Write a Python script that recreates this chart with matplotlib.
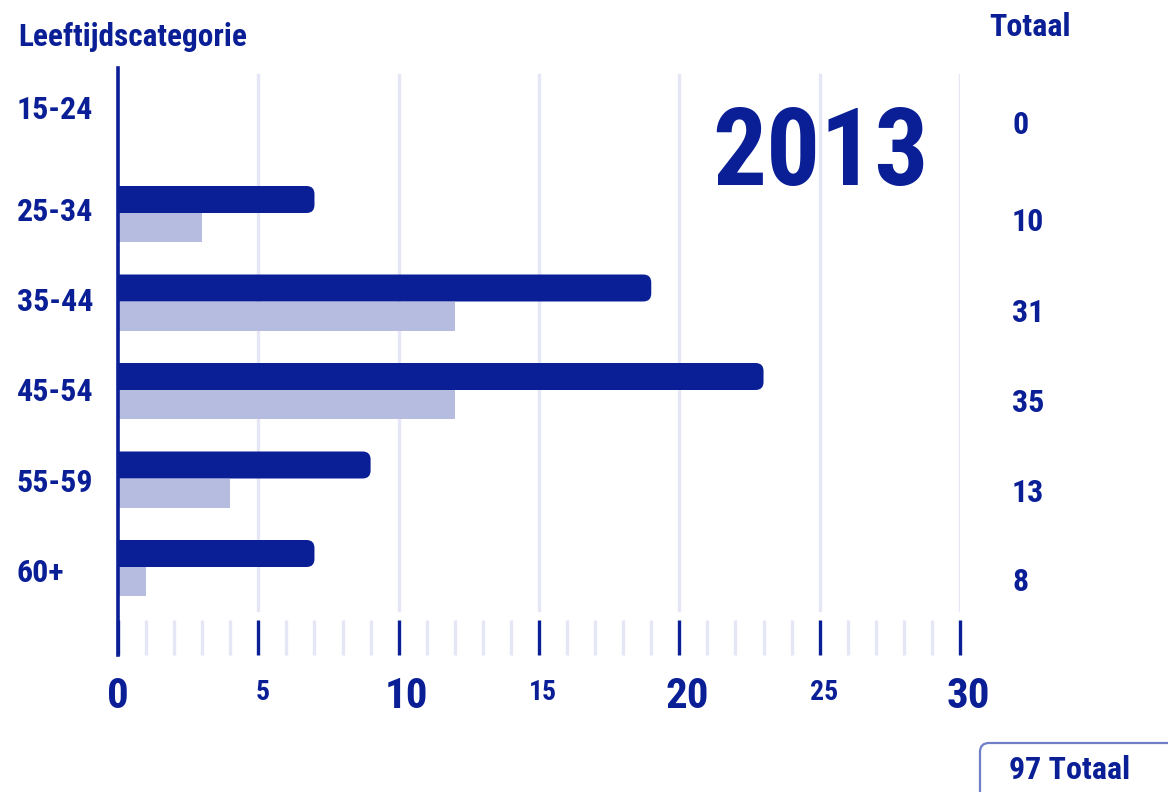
import matplotlib
matplotlib.use("Agg")
import matplotlib.pyplot as plt
from matplotlib.patches import FancyBboxPatch
from matplotlib.transforms import blended_transform_factory, offset_copy

# ---------------- data ----------------
categories = ["15-24", "25-34", "35-44", "45-54", "55-59", "60+"]
series_dark = [0, 7, 19, 23, 9, 7]
series_light = [0, 3, 12, 12, 4, 1]
totals = [0, 10, 31, 35, 13, 8]
year_label = "2013"
x_ticks = [0, 5, 10, 15, 20, 25, 30]
x_tick_labels = ["0", "5", "10", "15", "20", "25", "30"]

# ---------------- style ----------------
DARK = "#0a1f96"
LIGHT = "#b6bbe0"
GRID = "#e5e7f6"
FONT = ["Roboto Condensed", "DejaVu Sans"]
plt.rcParams["font.family"] = FONT

W, H = 1168, 792
fig = plt.figure(figsize=(W / 100, H / 100), dpi=100)


def fx(px):
    return px / W


def fy(py):
    return 1 - py / H


# axes: x 0..30 maps to pixel 118..960, y pixels 68..655
ax_left, ax_right, ax_top, ax_bot = 118, 960, 68, 655
ax = fig.add_axes([fx(ax_left), fy(ax_bot), fx(ax_right - ax_left), (ax_bot - ax_top) / H])

row0 = 124.5      # pixel of row boundary for first row
row_step = 88.5   # pixels between rows
ylo = (ax_top - row0) / row_step
yhi = (ax_bot - row0) / row_step
ax.set_xlim(0, 30)
ax.set_ylim(yhi, ylo)

dark_h = 27 / row_step
light_h = 29 / row_step
ypos = list(range(len(categories)))

# grid lines
g_ymin = (ax_bot - 610) / (ax_bot - ax_top)
g_ymax = (ax_bot - 75) / (ax_bot - ax_top)
for t in x_ticks[1:]:
    ax.axvline(t, g_ymin, g_ymax, color=GRID, lw=2.4, zorder=0)

# light bars
ax.barh(ypos, series_light, height=light_h, align="edge", color=LIGHT, zorder=2)

# dark bars (rounded right end)
dark_bars = ax.barh(ypos, series_dark, height=-dark_h, align="edge", color=DARK, zorder=3)
px_per_x = (ax_right - ax_left) / 30
aspect = px_per_x / row_step
for rect, v in zip(dark_bars.patches, series_dark):
    rect.set_visible(False)
    if v <= 0:
        continue
    y0, h = rect.get_y(), rect.get_height()
    w = rect.get_width()
    yb = min(y0, y0 + h)
    rr = 8 / px_per_x
    p = FancyBboxPatch((-1, yb), w + 1, abs(h),
                       boxstyle=f"round,pad=0,rounding_size={rr}",
                       mutation_aspect=aspect, fc=DARK, ec="none", zorder=3,
                       clip_on=True)
    ax.add_patch(p)

# spines
for s in ["top", "right", "bottom"]:
    ax.spines[s].set_visible(False)
ax.spines["left"].set_color(DARK)
ax.spines["left"].set_linewidth(2.6)
ax.spines["left"].set_zorder(5)
ax.set_yticks([])

# ticks: minor light, major dark
ax.set_xticks(x_ticks)
ax.set_xticklabels([])
ax.set_xticks([i for i in range(0, 31) if i % 5 != 0], minor=True)
tick_len = 35 * 72 / 100
ax.tick_params(axis="x", which="major", direction="in", length=tick_len, width=2.4, color=DARK)
ax.tick_params(axis="x", which="minor", direction="in", length=tick_len, width=2.4, color=GRID)

# x tick labels (big for multiples of 10)
trans = blended_transform_factory(ax.transData, fig.transFigure)
for t, lab in zip(x_ticks, x_tick_labels):
    big = t % 10 == 0
    shift = (8 if big else 4) if t > 0 else 0
    tr = offset_copy(trans, fig=fig, x=shift, y=0, units="dots")
    ax.text(t, fy(696 if big else 692), lab, transform=tr, ha="center", va="center",
            fontsize=31 if big else 20, fontweight="bold", color=DARK, clip_on=False)

# headings
fig.text(fx(18), fy(37), "Leeftijdscategorie", fontsize=22.5, fontweight="bold",
         color=DARK, ha="left", va="center")
fig.text(fx(1030), fy(27), "Totaal", fontsize=23, fontweight="bold",
         color=DARK, ha="center", va="center")

# category labels
label_y = [110, 212, 302, 392, 483, 573]
for cat, yy in zip(categories, label_y):
    fig.text(fx(17), fy(yy), cat, fontsize=23, fontweight="bold", color=DARK,
             ha="left", va="center")

# totals column
tot_y = [125, 222, 313, 403, 493, 582]
for tv, yy in zip(totals, tot_y):
    fig.text(fx(1012), fy(yy), str(tv), fontsize=23, fontweight="bold", color=DARK,
             ha="left", va="center")

# year
fig.text(fx(821), fy(156), year_label, fontsize=77, fontweight="bold", color=DARK,
         ha="center", va="center")

# total box
box = FancyBboxPatch((fx(980), fy(800)), fx(220), (800 - 743) / H,
                     boxstyle=f"round,pad=0,rounding_size={fx(9)}",
                     mutation_aspect=W / H, transform=fig.transFigure,
                     fc="white", ec="#6f7ec6", lw=1.6, zorder=1)
fig.patches.append(box)
fig.text(fx(1070), fy(770), f"{sum(totals)} Totaal", fontsize=23, fontweight="bold",
         color=DARK, ha="center", va="center", zorder=2)

fig.savefig("out.png", dpi=100)
